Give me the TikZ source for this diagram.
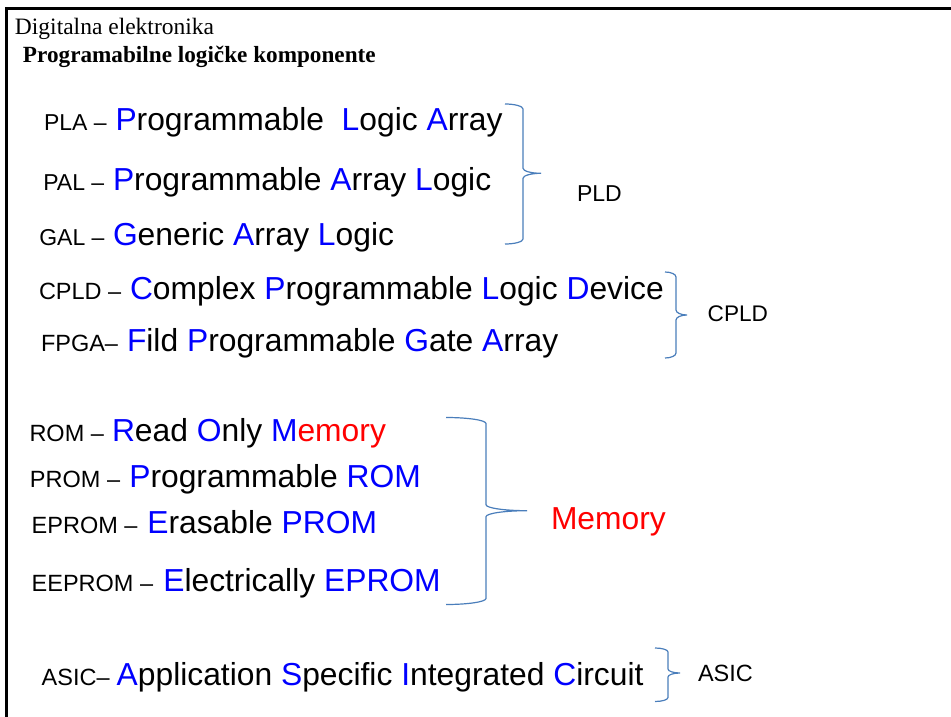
\documentclass[tikz,border=0pt]{standalone}
\usepackage{fontspec}
\setmainfont{Liberation Serif}
\newfontfamily\arial{Liberation Sans}
\definecolor{bracecol}{RGB}{74,126,187}
\definecolor{hiblue}{RGB}{0,0,255}
\definecolor{hired}{RGB}{255,0,0}
\newcommand{\blueL}[1]{\textcolor{hiblue}{#1}}
\newcommand{\redL}[1]{\textcolor{hired}{#1}}
% right-pointing curly brace: ends x0, spine x1, tip x2; top y0, middle ym, bottom y1; corner height r
\newcommand{\curlybrace}[7]{%
  \pgfmathsetmacro{\bXa}{#1+0.55*(#2-#1)}%
  \pgfmathsetmacro{\bXb}{#3-0.55*(#3-#2)}%
  \pgfmathsetmacro{\bYa}{#4+#7}%
  \pgfmathsetmacro{\bYb}{#4+0.45*#7}%
  \pgfmathsetmacro{\bYc}{#5-#7}%
  \pgfmathsetmacro{\bYd}{#5-0.45*#7}%
  \pgfmathsetmacro{\bYe}{#5+0.45*#7}%
  \pgfmathsetmacro{\bYf}{#5+#7}%
  \pgfmathsetmacro{\bYg}{#6-#7}%
  \pgfmathsetmacro{\bYh}{#6-0.45*#7}%
  \draw[bracestroke] (#1,#4) .. controls (\bXa,#4) and (#2,\bYb) .. (#2,\bYa)
     -- (#2,\bYc) .. controls (#2,\bYd) and (\bXb,#5) .. (#3,#5)
     .. controls (\bXb,#5) and (#2,\bYe) .. (#2,\bYf)
     -- (#2,\bYg) .. controls (#2,\bYh) and (\bXa,#6) .. (#1,#6);}
\begin{document}
\begin{tikzpicture}[x=1pt,y=-1pt,
  bracestroke/.style={draw=bracecol,line width=1.2pt},
  txt/.style={anchor=base west,inner sep=0pt,outer sep=0pt},
  abbrA/.style={txt,font={\arial\fontsize{23}{27}\selectfont}},
  abbrB/.style={txt,font={\arial\fontsize{23.5}{28}\selectfont}},
  term/.style={txt,font={\arial\fontsize{31.8}{38}\selectfont}},
  group/.style={txt,font={\arial\fontsize{23}{28}\selectfont}}]
\useasboundingbox (0,0) rectangle (951,717);
\fill[white] (0,0) rectangle (951,717);

% slide frame (top and left edges)
\draw[line width=3pt,line join=miter] (6.5,717) -- (6.5,8.5) -- (951,8.5);

% header
\node[txt,font={\fontsize{23.5}{28}\selectfont}] (course) at (15,35) {Digitalna elektronika};
\node[txt,font={\bfseries\fontsize{23.2}{28}\selectfont}] (topic) at (23,63) {Programabilne logičke komponente};

% PLD family
\node[abbrA] (plaA) at (44,130) {PLA –};
\node[term]  (plaT) at (115.5,130) {\blueL{P}rogrammable\ \ \blueL{L}ogic \blueL{A}rray};
\node[abbrA] (palA) at (43.3,190.7) {PAL –};
\node[term]  (palT) at (113,190.7) {\blueL{P}rogrammable \blueL{A}rray \blueL{L}ogic};
\node[abbrA] (galA) at (39.3,245) {GAL –};
\node[term]  (galT) at (113,245) {\blueL{G}eneric \blueL{A}rray \blueL{L}ogic};
\curlybrace{505}{523}{541}{104}{173.3}{244}{5}
\node[group] (pld) at (577,201) {PLD};

% CPLD family
\node[abbrB] (cpldA) at (39,299.3) {CPLD –};
\node[term]  (cpldT) at (130,299.3) {\blueL{C}omplex \blueL{P}rogrammable \blueL{L}ogic \blueL{D}evice};
\node[abbrB] (fpgaA) at (41,351.7) {FPGA–};
\node[term]  (fpgaT) at (127,351.7) {\blueL{F}ild \blueL{P}rogrammable \blueL{G}ate \blueL{A}rray};
\curlybrace{665}{676}{687}{272}{315}{358}{5}
\node[group,font={\arial\fontsize{22.6}{27}\selectfont}] (cpld) at (707.7,321) {CPLD};

% memories
\node[abbrB] (romA) at (29.5,441.7) {ROM –};
\node[term]  (romT) at (112,441.7) {\blueL{R}ead \blueL{O}nly \blueL{M}\redL{emory}};
\node[abbrB] (promA) at (30,487.3) {PROM –};
\node[term]  (promT) at (129.3,487.3) {\blueL{P}rogrammable \blueL{ROM}};
\node[abbrB] (epromA) at (31.7,533.3) {EPROM –};
\node[term]  (epromT) at (147.3,533.3) {\blueL{E}rasable \blueL{PROM}};
\node[abbrB] (eepromA) at (31.7,591.7) {EEPROM –};
\node[term]  (eepromT) at (163.3,591.7) {\blueL{E}lectrically \blueL{EPROM}};
\curlybrace{446}{486}{527}{417.5}{510.7}{604.5}{6}
\node[term,text=hired] (memory) at (551,529) {Memory};

% ASIC
\node[abbrB] (asicA) at (41.7,685.7) {ASIC–};
\node[term]  (asicT) at (116.7,685.7) {\blueL{A}pplication \blueL{S}pecific \blueL{I}ntegrated \blueL{C}ircuit};
\curlybrace{655}{668}{680}{648}{673}{701.5}{4}
\node[group,font={\arial\fontsize{23.5}{28}\selectfont}] (asic) at (698,681) {ASIC};
\end{tikzpicture}
\end{document}
